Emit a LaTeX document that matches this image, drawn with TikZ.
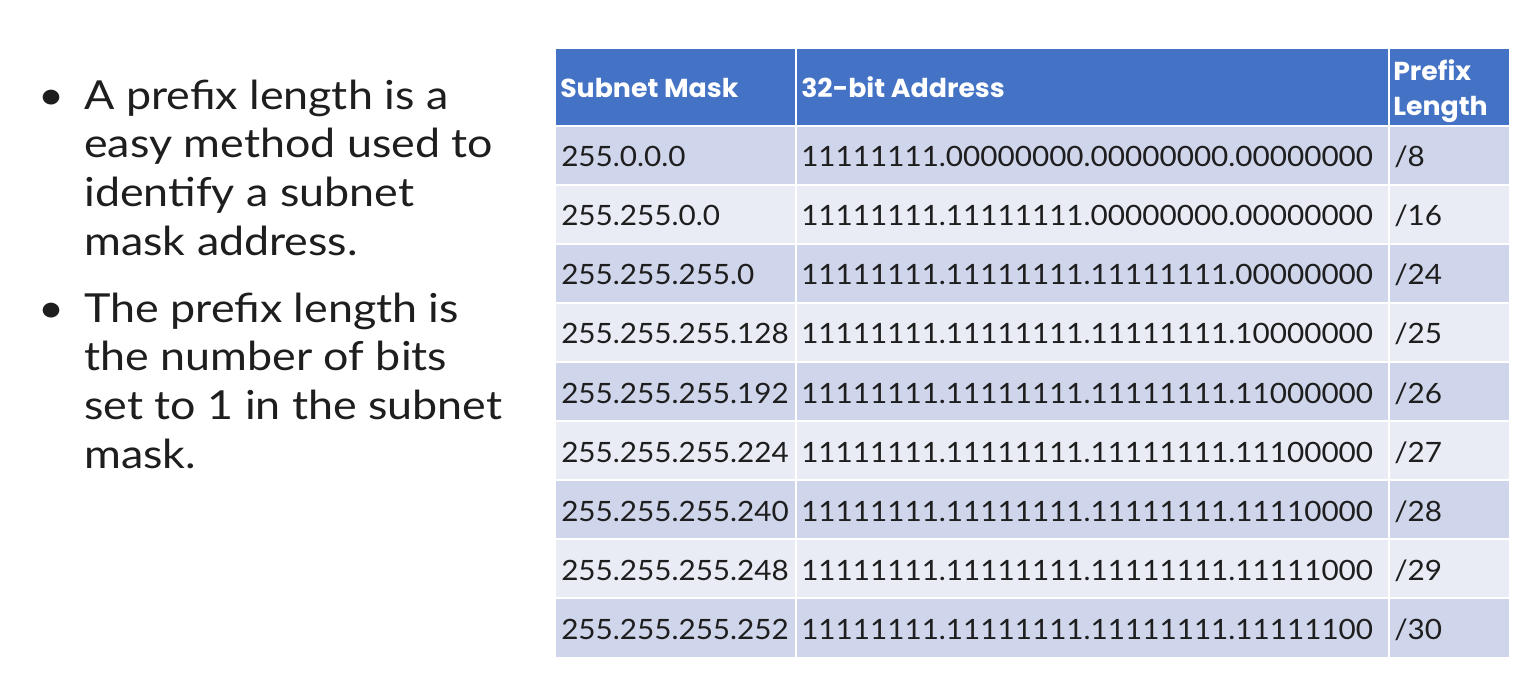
\documentclass[tikz,border=0pt]{standalone}
\usepackage{fontspec}
\setmainfont{Lato}
\newfontfamily\bodyfont{Lato}[FakeStretch=1.12]
\newfontfamily\cellfont{Lato}[FakeStretch=1.06]
\newfontfamily\hdrfont{Poppins}[UprightFont=* Bold,FakeStretch=1.03]
\definecolor{hdr}{HTML}{4472C4}
\definecolor{rowA}{HTML}{CFD5EA}
\definecolor{rowB}{HTML}{E9EBF5}
\definecolor{ink}{HTML}{1E1E1E}
\begin{document}
\begin{tikzpicture}[x=0.75pt,y=-0.75pt,
  bullettext/.style={anchor=base west,inner sep=0pt,text=ink,font=\bodyfont\fontsize{30}{36}\selectfont},
  hdrtext/.style={anchor=base west,inner sep=0pt,text=white,font=\hdrfont\fontsize{19.5}{22}\selectfont},
  celltext/.style={anchor=base west,inner sep=0pt,text=ink,font=\cellfont\fontsize{21}{25}\selectfont},
  grid/.style={draw=white,line width=1.5pt}]
\useasboundingbox (0,0) rectangle (1535,677);
\fill[white] (0,0) rectangle (1535,677);
% bullets
\node[bullettext] (b1) at (38,110) {•};
\node[bullettext] (l1) at (84,110) {A prefix length is a};
\node[bullettext] (l2) at (84,158) {easy method used to};
\node[bullettext] (l3) at (84,207) {identify a subnet};
\node[bullettext] (l4) at (84,256) {mask address.};
\node[bullettext] (b2) at (38,322) {•};
\node[bullettext] (l5) at (84,322) {The prefix length is};
\node[bullettext] (l6) at (84,370) {the number of bits};
\node[bullettext] (l7) at (84,419) {set to 1 in the subnet};
\node[bullettext] (l8) at (84,468) {mask.};
% table background
\fill[hdr] (556,49) rectangle (1509,126);
\foreach \i in {0,...,8}{
  \pgfmathsetmacro{\top}{126+59*\i}
  \pgfmathtruncatemacro{\odd}{mod(\i,2)}
  \ifnum\odd=0 \fill[rowA] (556,\top) rectangle (1509,\top+59);
  \else \fill[rowB] (556,\top) rectangle (1509,\top+59); \fi
}
% grid lines
\foreach \i in {0,...,8}{ \draw[grid] (556,126+59*\i) -- (1509,126+59*\i); }
\draw[grid] (796,49) -- (796,657);
\draw[grid] (1389,49) -- (1389,657);
% header
\node[hdrtext] (h1) at (560,98) {Subnet Mask};
\node[hdrtext] (h2) at (801,98) {32-bit Address};
\node[hdrtext] (h3a) at (1393,81) {Prefix};
\node[hdrtext] (h3b) at (1393,116) {Length};
% rows
\foreach \m/\b/\p [count=\k from 0] in {
  255.0.0.0/11111111.00000000.00000000.00000000/8,
  255.255.0.0/11111111.11111111.00000000.00000000/16,
  255.255.255.0/11111111.11111111.11111111.00000000/24,
  255.255.255.128/11111111.11111111.11111111.10000000/25,
  255.255.255.192/11111111.11111111.11111111.11000000/26,
  255.255.255.224/11111111.11111111.11111111.11100000/27,
  255.255.255.240/11111111.11111111.11111111.11110000/28,
  255.255.255.248/11111111.11111111.11111111.11111000/29,
  255.255.255.252/11111111.11111111.11111111.11111100/30}{
  \node[celltext] (m\k) at (561,126+59*\k+41) {\m};
  \node[celltext] (a\k) at (801,126+59*\k+41) {\b};
  \node[celltext] (p\k) at (1394,126+59*\k+41) {/\p};
}
\end{tikzpicture}
\end{document}
